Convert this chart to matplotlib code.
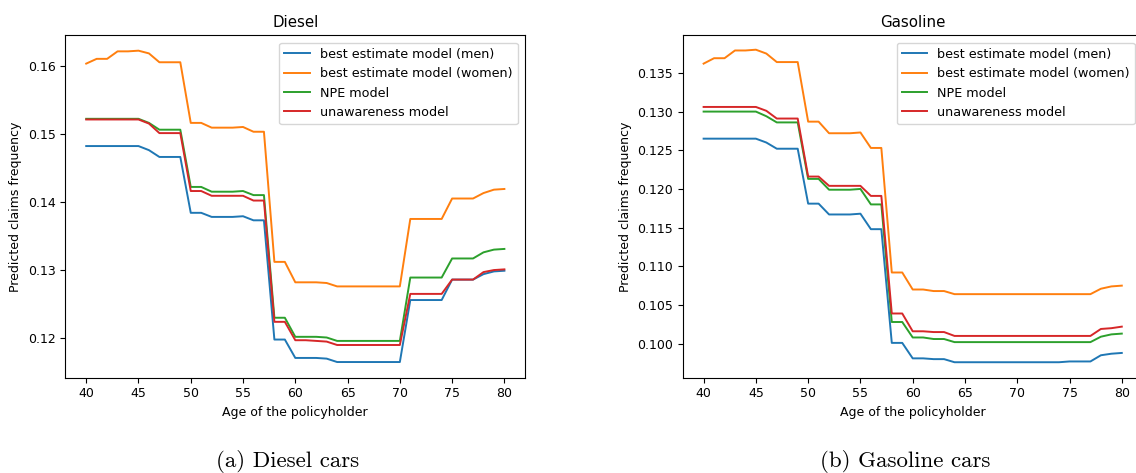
import matplotlib
matplotlib.use("Agg")
import matplotlib.pyplot as plt
import numpy as np

ages = np.arange(40, 81)

# Diesel cars
diesel_men = [0.1482, 0.1482, 0.1482, 0.1482, 0.1482, 0.1482, 0.1476, 0.1466, 0.1466, 0.1466,
              0.1384, 0.1384, 0.1378, 0.1378, 0.1378, 0.1379, 0.1373, 0.1373, 0.1198, 0.1198,
              0.1171, 0.1171, 0.1171, 0.1170, 0.1165, 0.1165, 0.1165, 0.1165, 0.1165, 0.1165,
              0.1165, 0.1256, 0.1256, 0.1256, 0.1256, 0.1286, 0.1286, 0.1286, 0.1294, 0.1298,
              0.1299]
diesel_women = [0.1603, 0.1610, 0.1610, 0.1621, 0.1621, 0.1622, 0.1618, 0.1605, 0.1605, 0.1605,
                0.1516, 0.1516, 0.1509, 0.1509, 0.1509, 0.1510, 0.1503, 0.1503, 0.1312, 0.1312,
                0.1282, 0.1282, 0.1282, 0.1281, 0.1276, 0.1276, 0.1276, 0.1276, 0.1276, 0.1276,
                0.1276, 0.1375, 0.1375, 0.1375, 0.1375, 0.1405, 0.1405, 0.1405, 0.1413, 0.1418,
                0.1419]
diesel_npe = [0.1522, 0.1522, 0.1522, 0.1522, 0.1522, 0.1522, 0.1516, 0.1506, 0.1506, 0.1506,
              0.1422, 0.1422, 0.1415, 0.1415, 0.1415, 0.1416, 0.1410, 0.1410, 0.1230, 0.1230,
              0.1202, 0.1202, 0.1202, 0.1201, 0.1196, 0.1196, 0.1196, 0.1196, 0.1196, 0.1196,
              0.1196, 0.1289, 0.1289, 0.1289, 0.1289, 0.1317, 0.1317, 0.1317, 0.1326, 0.1330,
              0.1331]
diesel_unaware = [0.1521, 0.1521, 0.1521, 0.1521, 0.1521, 0.1521, 0.1515, 0.1501, 0.1501, 0.1501,
                  0.1416, 0.1416, 0.1409, 0.1409, 0.1409, 0.1409, 0.1402, 0.1402, 0.1224, 0.1224,
                  0.1197, 0.1197, 0.1196, 0.1195, 0.1190, 0.1190, 0.1190, 0.1190, 0.1190, 0.1190,
                  0.1190, 0.1265, 0.1265, 0.1265, 0.1265, 0.1286, 0.1286, 0.1286, 0.1297, 0.1300,
                  0.1301]

# Gasoline cars
gas_men = [0.1265, 0.1265, 0.1265, 0.1265, 0.1265, 0.1265, 0.1260, 0.1252, 0.1252, 0.1252,
           0.1181, 0.1181, 0.1167, 0.1167, 0.1167, 0.1168, 0.1148, 0.1148, 0.1001, 0.1001,
           0.0981, 0.0981, 0.0980, 0.0980, 0.0976, 0.0976, 0.0976, 0.0976, 0.0976, 0.0976,
           0.0976, 0.0976, 0.0976, 0.0976, 0.0976, 0.0977, 0.0977, 0.0977, 0.0985, 0.0987,
           0.0988]
gas_women = [0.1362, 0.1369, 0.1369, 0.1379, 0.1379, 0.1380, 0.1375, 0.1364, 0.1364, 0.1364,
             0.1287, 0.1287, 0.1272, 0.1272, 0.1272, 0.1273, 0.1253, 0.1253, 0.1092, 0.1092,
             0.1070, 0.1070, 0.1068, 0.1068, 0.1064, 0.1064, 0.1064, 0.1064, 0.1064, 0.1064,
             0.1064, 0.1064, 0.1064, 0.1064, 0.1064, 0.1064, 0.1064, 0.1064, 0.1071, 0.1074,
             0.1075]
gas_npe = [0.1300, 0.1300, 0.1300, 0.1300, 0.1300, 0.1300, 0.1294, 0.1286, 0.1286, 0.1286,
           0.1213, 0.1213, 0.1199, 0.1199, 0.1199, 0.1200, 0.1180, 0.1180, 0.1028, 0.1028,
           0.1008, 0.1008, 0.1006, 0.1006, 0.1002, 0.1002, 0.1002, 0.1002, 0.1002, 0.1002,
           0.1002, 0.1002, 0.1002, 0.1002, 0.1002, 0.1002, 0.1002, 0.1002, 0.1009, 0.1012,
           0.1013]
gas_unaware = [0.1306, 0.1306, 0.1306, 0.1306, 0.1306, 0.1306, 0.1301, 0.1291, 0.1291, 0.1291,
               0.1216, 0.1216, 0.1204, 0.1204, 0.1204, 0.1204, 0.1191, 0.1191, 0.1039, 0.1039,
               0.1016, 0.1016, 0.1015, 0.1015, 0.1010, 0.1010, 0.1010, 0.1010, 0.1010, 0.1010,
               0.1010, 0.1010, 0.1010, 0.1010, 0.1010, 0.1010, 0.1010, 0.1010, 0.1019, 0.1020,
               0.1022]

labels = ["best estimate model (men)", "best estimate model (women)", "NPE model", "unawareness model"]
colors = ["#1f77b4", "#ff7f0e", "#2ca02c", "#d62728"]

panels = [
    ("Diesel", "(a) Diesel cars", [diesel_men, diesel_women, diesel_npe, diesel_unaware], (0.1142, 0.1645)),
    ("Gasoline", "(b) Gasoline cars", [gas_men, gas_women, gas_npe, gas_unaware], (0.0956, 0.1399)),
]

W, H = 1136, 473
fig = plt.figure(figsize=(W / 100, H / 100), dpi=100)

# axes boxes in pixels: left, bottom (from top); the right panel runs past the image edge
boxes = [(65.3, 377.7), (682.7, 377.7)]
ax_w, ax_h = 460, 342.7
caption_x = [288, 905]

for (title, caption, series, ylim), (x0, ybot), cx in zip(panels, boxes, caption_x):
    ax = fig.add_axes([x0 / W, (H - ybot) / H, ax_w / W, ax_h / H])
    for vals, lab, c in zip(series, labels, colors):
        ax.plot(ages, vals, color=c, lw=1.4, label=lab)
    ax.set_ylim(*ylim)
    ax.set_title(title, fontsize=10.8)
    ax.set_xlabel("Age of the policyholder", fontsize=9)
    ax.set_ylabel("Predicted claims frequency", fontsize=9)
    ax.set_xticks(np.arange(40, 81, 5))
    ax.tick_params(labelsize=9)
    ax.legend(loc="upper right", fontsize=9.2, borderaxespad=0.6)
    fig.text(cx / W, (H - 467) / H, caption, fontfamily="cmr10", fontsize=16.5,
             ha="center", va="baseline")

plt.savefig("out.png", dpi=100)
